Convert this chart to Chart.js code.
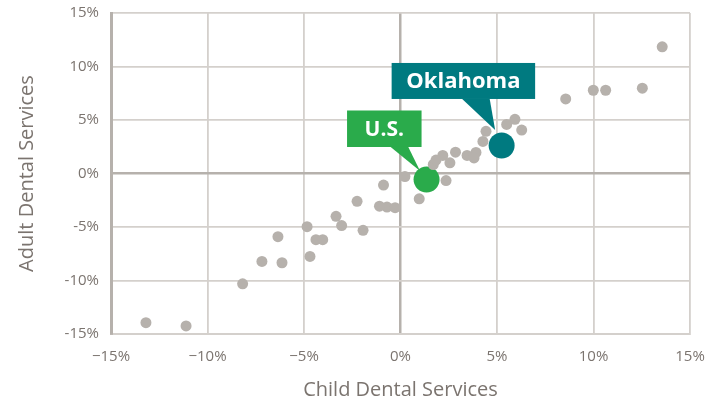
<!DOCTYPE html>
<html>
<head>
<meta charset="utf-8">
<script src="https://cdn.jsdelivr.net/npm/chart.js@4.4.1/dist/chart.umd.min.js"></script>
<style>
html,body{margin:0;padding:0;background:#fff;}
#wrap{width:717px;height:404px;}
</style>
</head>
<body>
<div id="wrap"><canvas id="c" width="717" height="404"></canvas></div>
<script>
// Child (x) vs Adult (y) dental services change, %
const statesChild = [13.56,12.53,10.63,9.99,8.56,6.28,5.93,5.50,4.43,4.27,3.91,3.45,3.81,2.85,2.19,1.70,1.84,2.56,2.36,0.23,0.97,-0.88,-0.70,-0.28,-1.09,-2.25,-3.34,-3.05,-1.94,-4.84,-6.35,-4.38,-4.03,-4.69,-7.18,-6.14,-8.18,-13.19,-11.11];
const statesAdult = [11.84,7.97,7.78,7.78,6.97,4.06,5.06,4.59,3.94,3.00,1.97,1.69,1.45,1.99,1.69,0.84,1.26,1.00,-0.66,-0.28,-2.37,-1.08,-3.14,-3.19,-3.05,-2.60,-4.00,-4.87,-5.31,-4.97,-5.90,-6.19,-6.19,-7.75,-8.22,-8.34,-10.31,-13.94,-14.25];
const highlightNames = ["Oklahoma","U.S."];
const highlightChild = [5.24,1.35];
const highlightAdult = [2.62,-0.56];
const tickValues = [-15,-10,-5,0,5,10,15];
const xTitle = "Child Dental Services";
const yTitle = "Adult Dental Services";

const GRAY = '#b6b1ac';
const TEAL = '#007a80';
const GREEN = '#2aab4b';
const TXT = '#7b746f';
const FONT = "'Open Sans', sans-serif";

const toPts = (xs, ys) => xs.map((x,i)=>({x:x, y:ys[i]}));

const calloutPlugin = {
  id:'callouts',
  afterDatasetsDraw(chart){
    const ctx = chart.ctx;
    const specs = [
      {ds:1, color:TEAL, text:highlightNames[0], box:[-110,-82.5,33.5,-46.5], base:[-40,-12], tip:[-6.5,-15.5], font:22},
      {ds:2, color:GREEN, text:highlightNames[1], box:[-79.5,-69,-5,-32.5], base:[-36.5,-18.5], tip:[-6.5,-8.5], font:21}
    ];
    specs.forEach(s=>{
      const el = chart.getDatasetMeta(s.ds).data[0];
      const px = el.x, py = el.y;
      ctx.save();
      ctx.fillStyle = s.color;
      const [l,t,r,b] = s.box;
      ctx.fillRect(px+l, py+t, r-l, b-t);
      ctx.beginPath();
      ctx.moveTo(px+s.base[0], py+b-0.5);
      ctx.lineTo(px+s.base[1], py+b-0.5);
      ctx.lineTo(px+s.tip[0], py+s.tip[1]);
      ctx.closePath();
      ctx.fill();
      ctx.fillStyle = '#ffffff';
      ctx.font = 'bold ' + s.font + 'px ' + FONT;
      ctx.textAlign = 'center';
      ctx.textBaseline = 'middle';
      ctx.fillText(s.text, px+(l+r)/2, py+(t+b)/2+1);
      ctx.restore();
    });
  }
};

new Chart(document.getElementById('c'), {
  type:'scatter',
  data:{
    datasets:[
      {data:toPts(statesChild, statesAdult), backgroundColor:GRAY, borderWidth:0, pointRadius:5.5, pointHoverRadius:5.5},
      {data:[{x:highlightChild[0], y:highlightAdult[0]}], backgroundColor:TEAL, borderWidth:0, pointRadius:13, pointHoverRadius:13},
      {data:[{x:highlightChild[1], y:highlightAdult[1]}], backgroundColor:GREEN, borderWidth:0, pointRadius:13, pointHoverRadius:13}
    ]
  },
  options:{
    responsive:false,
    animation:false,
    events:[],
    layout:{padding:{top:13, right:27, left:0, bottom:0}},
    plugins:{legend:{display:false}, tooltip:{enabled:false}},
    scales:{
      x:{
        type:'linear', min:-15, max:15,
        afterBuildTicks(scale){ scale.ticks = tickValues.map(v=>({value:v})); },
        afterFit(scale){ scale.height = 70; scale.paddingLeft = 0; scale.paddingRight = 0; },
        ticks:{
          padding:14, color:TXT, font:{family:FONT, size:15},
          callback:(v)=> (v<0 ? '\u2212' + Math.abs(v) : v) + '%'
        },
        grid:{
          drawTicks:false,
          color:(c)=> c.tick && c.tick.value===0 ? '#b6b1ac' : '#d4d0cc',
          lineWidth:(c)=> c.tick && c.tick.value===0 ? 2.5 : 1.8
        },
        border:{display:true, color:'#d4d0cc', width:2},
        title:{display:true, text:xTitle, color:TXT, font:{family:FONT, size:20}, padding:{top:0, bottom:2}}
      },
      y:{
        type:'linear', min:-15, max:15,
        afterBuildTicks(scale){ scale.ticks = tickValues.map(v=>({value:v})); },
        afterFit(scale){ scale.width = 111; scale.paddingTop = 0; scale.paddingBottom = 0; },
        ticks:{
          padding:12, color:TXT, font:{family:FONT, size:15},
          callback:(v)=> v + '%'
        },
        grid:{
          drawTicks:false,
          color:(c)=> c.tick && c.tick.value===0 ? '#b6b1ac' : '#d4d0cc',
          lineWidth:(c)=> c.tick && c.tick.value===0 ? 2.5 : 1.8
        },
        border:{display:true, color:'#b6b1ac', width:3},
        title:{display:true, text:yTitle, color:TXT, font:{family:FONT, size:20}, padding:{top:15, bottom:0}}
      }
    }
  },
  plugins:[calloutPlugin]
});
</script>
</body>
</html>
